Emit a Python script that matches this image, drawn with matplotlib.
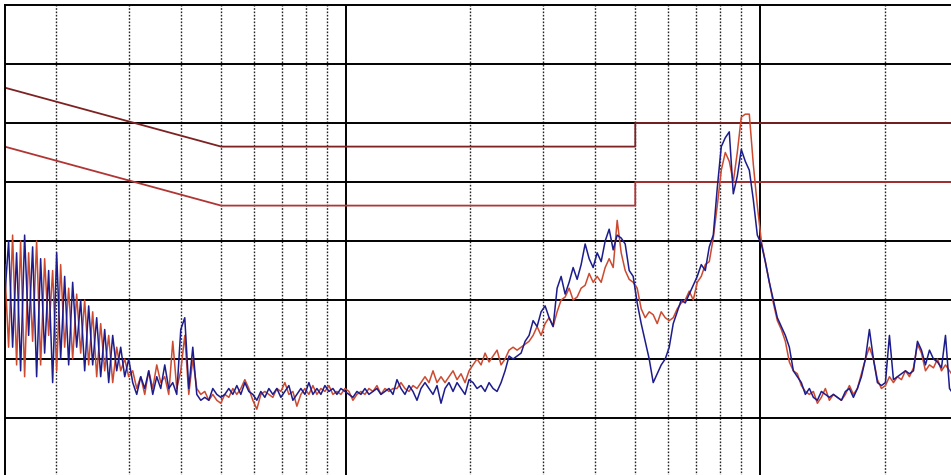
import numpy as np
import matplotlib
matplotlib.use("Agg")
import matplotlib.pyplot as plt

# Receiver sweep: 239 log-spaced frequency points, 150 kHz .. 30 MHz
freq_mhz = np.geomspace(0.15, 30.0, 239)

# Measured levels in dBuV (blue = line L, red = line N)
level_blue = [
    30, 40, 22, 38, 18, 41, 24, 39, 17, 37, 21, 35, 16, 38, 20, 34, 19, 33, 22, 30,
    18, 29, 19, 27, 17, 25, 16, 24, 18, 22, 17, 20,
    16, 14, 17, 15, 18, 14, 17, 15, 19, 15, 16, 14, 25, 27, 15, 22, 14, 13,
    13.5, 13, 15, 14, 13.5, 14, 15, 14, 15.5, 14, 16, 14.5, 14, 13, 14.5, 13.5,
    15, 14, 15, 13.5, 14.5, 15.5, 13, 14, 15, 14, 16, 14, 15, 14, 15.5, 14.5,
    15, 14, 15, 14.5,
    14, 13.5, 14.5, 14, 15, 14, 14.5, 15, 14, 14.5, 15, 14, 16.5, 15, 14, 15.5,
    14.5, 13, 15, 16, 15, 14, 15.5, 12.5, 15, 16, 14.5, 16, 15, 14, 16.5, 16,
    15, 15.5, 14.5, 16, 15, 14.5, 16, 18, 20.5, 20, 20.5,
    21, 23, 24, 26.5, 25.5, 28, 29, 27, 25.5, 32, 34, 31, 33, 35.5, 33.5, 36,
    39.5, 37, 35.5, 38, 36.5, 40, 42, 38.5, 41, 40.5, 39.5, 35, 34, 29.5,
    26, 23, 20, 16, 17.5, 19, 20, 22, 26, 28, 30, 29.5, 31, 32.5, 34, 36,
    35, 39, 41, 49, 56, 57.5, 58.5, 48, 51, 55.5, 53.5, 52, 47, 41, 39.5, 36.5,
    33, 30, 27,
    25.5, 24, 22, 18, 17, 16, 14, 15, 13.5, 13, 14.5, 14, 13.5, 14, 13.5, 13,
    14.5, 15, 13.5, 15, 17, 20, 25, 20, 16, 15.5, 16, 24, 16.5, 17, 17.5, 18,
    17.5, 18, 23, 21.5, 19, 21.5, 20, 19.5, 18.5, 24, 15, 14, 15,
]
level_red = [
    36, 22, 41, 19, 40, 17, 38, 23, 40, 19, 37, 24, 35, 18, 36, 22, 32, 20, 31, 21,
    30, 19, 28, 17, 26, 18, 24, 16, 22, 18, 20, 17,
    18, 15, 17, 14, 18, 15, 19, 16, 17, 14, 23, 15, 18, 24, 14, 20, 15, 14,
    14.5, 13, 14, 13, 12.5, 14, 13.5, 15, 14, 15, 16.5, 15, 13, 11.5, 14, 14.5,
    14, 13.5, 15, 14.5, 16, 14, 14.5, 12, 14, 15, 14, 15.5, 14, 15, 14.5, 15.5,
    14, 14.5, 14, 15,
    14.5, 13, 14, 14.5, 14, 15, 14.5, 15.5, 14, 15, 14.5, 15, 15, 16, 15, 14.5,
    15.5, 15, 16, 17, 16, 18, 16, 17, 16, 17, 18, 16.5, 17.5, 16, 18, 19,
    20, 19, 21, 19.5, 20.5, 21.5, 19, 20, 21.5, 22, 21.5,
    22, 22.5, 23, 24, 25.5, 24, 26, 27, 25.5, 28, 30, 30.5, 32, 30, 30.5, 32,
    32.5, 34.5, 33, 34, 33, 35.5, 37, 35.5, 43.5, 38, 35, 33.5, 33, 32,
    28.5, 27, 28, 27.5, 26, 28, 27, 26.5, 27, 28.5, 29.5, 30, 31.5, 30, 33, 34,
    36, 36.5, 40.5, 46, 52, 55, 53.5, 50, 55, 61, 61.5, 61.5, 53, 46, 40, 36.5,
    33, 29.5, 26.5,
    25, 23, 19.5, 18, 17.5, 15.5, 14.5, 14, 14.5, 12.5, 13.5, 15, 13, 14, 13.5, 13,
    14, 15.5, 14, 15, 17.5, 20, 22, 20, 16.5, 15, 15.5, 17, 16, 17, 16.5, 18,
    17, 18.5, 22.5, 21, 18, 19, 18.5, 20, 18, 19, 18, 17, 16,
]

# CISPR 22 class B conducted limits (quasi-peak and average)
limit_freq = [0.15, 0.5, 5.0, 5.0, 30.0]
limit_qp = [66, 56, 56, 60, 60]
limit_avg = [56, 46, 46, 50, 50]

# Grid positions
minor_freqs = [0.2, 0.3, 0.4, 0.5, 0.6, 0.7, 0.8, 0.9,
               2, 3, 4, 5, 6, 7, 8, 9, 20]
major_freqs = [1, 10]
level_grid = [10, 20, 30, 40, 50, 60, 70]

W, H = 951, 475
fig = plt.figure(figsize=(W / 100, H / 100), dpi=100)
fig.patch.set_facecolor("white")
x0, x1 = 4.6, 957.5
y_top, y_bot = 5.0, 477.0
ax = fig.add_axes([x0 / W, (H - y_bot) / H, (x1 - x0) / W, (y_bot - y_top) / H])
ax.set_xscale("log")
ax.set_xlim(0.15, 30.0)
ax.set_ylim(0, 80)
ax.set_facecolor("white")

for f in minor_freqs:
    ax.axvline(f, color="#222222", lw=1.0, ls=(0, (1.2, 1.2)), zorder=1)
for f in major_freqs:
    ax.axvline(f, color="black", lw=1.4, zorder=1)
for lv in level_grid:
    ax.axhline(lv, color="black", lw=1.4, zorder=1)

ax.plot(limit_freq, limit_qp, color="#7d2222", lw=1.3, zorder=2)
ax.plot(limit_freq, limit_avg, color="#b03535", lw=1.3, zorder=2)

ax.plot(freq_mhz, level_red, color="#cc4a30", lw=1.1, zorder=3)
ax.plot(freq_mhz, level_blue, color="#1c1c8c", lw=1.1, zorder=4)

ax.set_xticks([])
ax.set_yticks([])
ax.minorticks_off()
ax.tick_params(which="both", length=0)
for s in ax.spines.values():
    s.set_color("black")
    s.set_linewidth(1.4)

fig.savefig("out.png", dpi=100, facecolor="white")
